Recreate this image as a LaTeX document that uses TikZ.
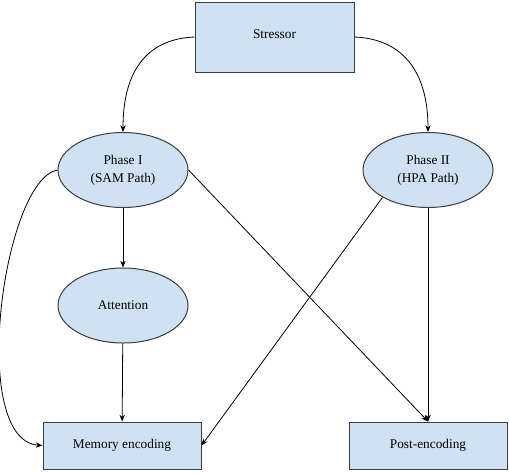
\documentclass[tikz,border=0pt]{standalone}
\usepackage{fontspec}
\setmainfont{Liberation Serif}
\usetikzlibrary{shapes.geometric,arrows.meta}
\definecolor{boxfill}{RGB}{207,226,243}
\definecolor{boxline}{RGB}{60,60,60}
\begin{document}
\begin{tikzpicture}[x=0.75pt,y=0.75pt,yscale=-1,xscale=1,
  box/.style={draw=boxline,fill=boxfill,line width=0.75,inner sep=0.75pt,font=\fontsize{10}{13.5}\selectfont},
  oval/.style={ellipse,draw=boxline,fill=boxfill,line width=0.75,inner sep=0pt,minimum width=97.5pt,minimum height=56.25pt,align=center,font=\fontsize{10}{13.5}\selectfont},
  link/.style={line width=0.6,-{Stealth[length=5pt,width=4pt,inset=1.5pt]}}]
\useasboundingbox (0,0) rectangle (509,472);

%Shape: Rectangle [id:stress]
\node (stress) [box,minimum width=119.25pt,minimum height=52.5pt,text depth=4.5pt] at (274.5,37) {Stressor};
%Shape: Ellipse [id:ph1]
\node (ph1) [oval] at (123,170) {Phase I\\(SAM Path)};
%Shape: Ellipse [id:ph2]
\node (ph2) [oval] at (428,170) {Phase II\\(HPA Path)};
%Shape: Ellipse [id:att]
\node (att) [oval] at (123,305.5) {Attention};
%Shape: Rectangle [id:mem]
\node (mem) [box,minimum width=118.5pt,minimum height=35.25pt,text depth=2pt] at (122,445.5) {Memory encoding};
%Shape: Rectangle [id:post]
\node (post) [box,minimum width=118.5pt,minimum height=35.25pt,text depth=2pt] at (428,445.5) {Post-encoding};

%Curve Lines
\draw [link] (stress.west) .. controls +(-50,2) and +(0,-58) .. (ph1.north);
\draw [link] (stress.east) .. controls +(50,2) and +(0,-58) .. (ph2.north);
\draw [link] (ph1.west) .. controls (3,180) and (-32,440) .. (mem.west);
%Straight Lines
\draw [link] (ph1) -- (att);
\draw [link] (att) -- (mem);
\draw [link] (ph1.east) -- (post.north);
\draw [link] (ph2.211) -- (mem.east);
\draw [link] (ph2) -- (post);

\end{tikzpicture}
\end{document}
